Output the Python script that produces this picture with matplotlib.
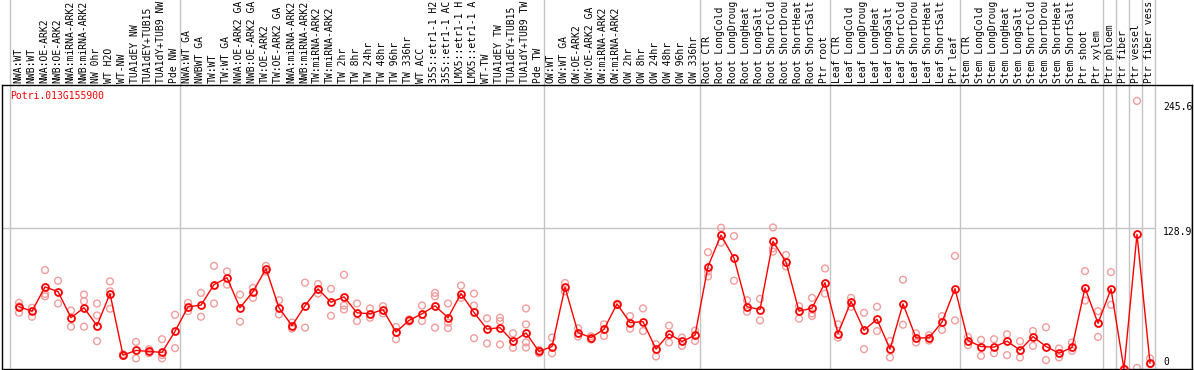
import numpy as np
import matplotlib.pyplot as plt
from matplotlib import transforms
from matplotlib.lines import Line2D

# sample labels, in plotting order
labels = [
    "NWA:WT", "NWB:WT", "NWA:OE-ARK2", "NWB:OE-ARK2", "NWA:miRNA-ARK2", "NWB:miRNA-ARK2",
    "NW 0hr", "WT H2O", "WT-NW", "TUA1dEY NW", "TUA1dEY+TUB15", "TUA1dY+TUB9 NW", "Pde NW",
    "NWA:WT GA", "NWBWT GA", "TW:WT", "TW:WT GA", "NWA:OE-ARK2 GA", "NWB:OE-ARK2 GA",
    "TW:OE-ARK2", "TW:OE-ARK2 GA", "NWA:miRNA-ARK2", "NWB:miRNA-ARK2", "TW:miRNA-ARK2",
    "TW:miRNA-ARK2", "TW 2hr", "TW 8hr", "TW 24hr", "TW 48hr", "TW 96hr", "TW 336hr",
    "WT ACC", "35S::etr1-1 H2O", "35S::etr1-1 ACC", "LMX5::etr1-1 H2O", "LMX5::etr1-1 ACC",
    "WT-TW", "TUA1dEY TW", "TUA1dEY+TUB15 TW", "TUA1dY+TUB9 TW", "Pde TW",
    "OW:WT", "OW:WT GA", "OW:OE-ARK2", "OW:OE-ARK2 GA", "OW:miRNA-ARK2", "OW:miRNA-ARK2",
    "OW 2hr", "OW 8hr", "OW 24hr", "OW 48hr", "OW 96hr", "OW 336hr",
    "Root CTR", "Root LongCold", "Root LongDrought", "Root LongHeat", "Root LongSalt",
    "Root ShortCold", "Root ShortDrought", "Root ShortHeat", "Root ShortSalt", "Ptr root",
    "Leaf CTR", "Leaf LongCold", "Leaf LongDrought", "Leaf LongHeat", "Leaf LongSalt",
    "Leaf ShortCold", "Leaf ShortDrought", "Leaf ShortHeat", "Leaf ShortSalt", "Ptr leaf",
    "Stem CTR", "Stem LongCold", "Stem LongDrought", "Stem LongHeat", "Stem LongSalt",
    "Stem ShortCold", "Stem ShortDrought", "Stem ShortHeat", "Stem ShortSalt",
    "Ptr shoot", "Ptr xylem",
    "Ptr phloem", "Ptr fiber", "Ptr vessel", "Ptr fiber vessel",
]
group_sizes = [13, 28, 12, 10, 10, 11, 1, 1, 1, 1]
max_chars = 14  # header labels are cut to this many characters

means = [57.0, 53.0, 75.2, 70.9, 47.0, 56.1, 39.7, 69.1, 12.7, 17.0, 16.1, 15.2, 34.5,
         57.0, 58.5, 77.3, 83.6, 56.1, 70.9, 91.8, 56.1, 39.7, 57.9, 73.4, 61.2, 66.1,
         51.5, 50.6, 54.3, 33.9, 44.5, 50.6, 57.9, 47.0, 69.1, 51.8, 36.6, 37.9, 25.2,
         33.0, 16.1,
         20.6, 74.8, 33.4, 28.8, 36.4, 59.7, 42.5, 43.4, 18.2, 32.1, 25.2, 30.9,
         93.9, 122.7, 101.5, 57.0, 54.5, 117.0, 97.9, 53.0, 55.7, 79.1,
         32.5, 61.8, 35.5, 45.6, 18.2, 59.7, 28.5, 28.5, 43.0, 73.6,
         26.1, 20.6, 20.0, 25.5, 17.3, 29.7, 20.6, 14.5, 19.7, 74.3, 41.8,
         73.4, 0.0, 123.4, 5.5]

reps = [
    [60.6, 51.5, 57.5], [56.1, 47.9], [90.6, 68.8, 66.6], [80.9, 60.0], [53.6, 38.8],
    [68.2, 62.1, 38.8], [60.0, 49.1, 25.5], [80.3, 71.2, 55.2], [13.6, 12.1], [24.8, 9.7],
    [18.2, 14.5], [27.3, 12.7, 9.7], [49.7, 19.1],
    [60.6, 53.0], [69.7, 47.9], [94.5, 60.0], [89.4, 77.3], [68.2, 43.4], [74.3, 65.2],
    [94.5, 89.2], [63.0, 50.0], [42.5, 37.0], [79.1, 37.9], [77.9, 69.1], [73.4, 48.8],
    [86.4, 58.2, 54.5], [60.0, 43.9], [55.5, 47.0], [57.5, 51.0], [38.5, 27.3],
    [45.5, 43.5], [58.2, 43.9], [69.7, 66.6, 37.9], [60.0, 42.5, 37.5], [76.4, 65.2],
    [69.1, 58.2, 28.2], [46.4, 23.4], [47.0, 43.9, 22.5], [32.7, 19.4],
    [55.5, 40.9, 24.3, 19.7], [17.5, 14.5],
    [28.8, 14.5], [78.8, 71.2], [37.3, 29.7], [30.0, 27.0], [40.9, 30.3], [59.7, 58.5],
    [48.5, 37.0], [55.5, 34.8], [22.7, 11.5], [39.7, 24.3], [28.8, 21.2], [35.2, 25.7],
    [107.0, 89.4, 84.8], [129.4, 115.7], [121.8, 80.9], [63.0, 52.5], [64.3, 44.5],
    [129.7, 110.6, 107.5], [104.5, 93.9], [57.5, 46.1], [65.2, 50.9, 48.5], [92.1, 69.1],
    [40.9, 28.8], [65.2, 57.0], [51.5, 18.2], [57.0, 34.8], [25.7, 10.6], [81.8, 40.6],
    [32.7, 24.3], [30.9, 26.1], [48.5, 35.8], [103.6, 44.5],
    [29.4, 21.8], [26.7, 12.1], [27.3, 14.5], [31.8, 12.7], [25.5, 10.6], [34.8, 21.2],
    [38.2, 8.2], [18.8, 10.6], [24.3, 16.6], [89.7, 62.7], [53.0, 29.4],
    [88.8, 58.8], [0.0, 0.0], [245.6, 1.0], [9.7, 4.5],
]

gene = "Potri.013G155900"
tick_values = [245.6, 128.9, 0]

mono = "DejaVu Sans Mono"
W, H = 1194, 370
fig = plt.figure(figsize=(W / 100, H / 100), dpi=100)

# plot box in pixels
left_px, right_px, top_px, bot_px = 1.7, 1192, 85, 369
ax = fig.add_axes([left_px / W, (H - bot_px) / H,
                   (right_px - left_px) / W, (bot_px - top_px) / H])
x0, dx = 19, 13           # pixel of first sample, pixel step
px_per_unit = 1.0915
ax.set_xlim((left_px - x0) / dx, (right_px - x0) / dx)
ax.set_ylim(0, (bot_px - top_px) / px_per_unit)
ax.set_xticks([])
ax.set_yticks([])
for s in ax.spines.values():
    s.set_color("black")
    s.set_linewidth(1)

x = np.arange(len(labels))

# group separators run through the header too
bounds = [-0.69] + list(np.cumsum(group_sizes) - 1 + 0.42)
top_frac = bot_px / (bot_px - top_px)
for b in bounds:
    ax.axvline(b, ymin=0, ymax=top_frac, color="#c4c4c4", lw=1, clip_on=False, zorder=0)
ax.add_line(Line2D([right_px / W, right_px / W], [0, 1], transform=fig.transFigure,
                   color="black", lw=1))

ax.hlines(tick_values[1], ax.get_xlim()[0], bounds[-1], color="#c4c4c4", lw=1, zorder=0)

# replicates
rx = [i for i, r in enumerate(reps) for _ in r]
ry = [v for r in reps for v in r]
ax.scatter(rx, ry, s=24, facecolors="none", edgecolors="#f29c9c", linewidths=1, zorder=2)

# means
ax.plot(x, means, color="red", lw=1, marker="o", ms=5, mfc="none", mec="red",
        mew=1.3, zorder=3)

# sample labels in the header
hdr = transforms.blended_transform_factory(ax.transData, ax.transAxes)
for i, lab in enumerate(labels):
    ax.text(i - 0.08, 1.006, lab[:max_chars], transform=hdr, rotation=90, ha="center",
            va="bottom", fontsize=7, family=mono, clip_on=False)

fig.text(10 / W, 1 - 96 / H, gene, color="red", fontsize=7, family=mono,
         ha="left", va="center")

# value labels on the right
lab_tr = transforms.blended_transform_factory(ax.transAxes, ax.transData)
xl = (1163 - left_px) / (right_px - left_px)
offsets = [-4.2, -2.9, 5.3]
for v, off in zip(tick_values, offsets):
    ax.annotate(f"{v:g}", xy=(xl, v), xycoords=lab_tr, xytext=(0, off),
                textcoords="offset points", ha="left", va="center",
                fontsize=7, family=mono, annotation_clip=False)

fig.savefig("out.png", dpi=100)
